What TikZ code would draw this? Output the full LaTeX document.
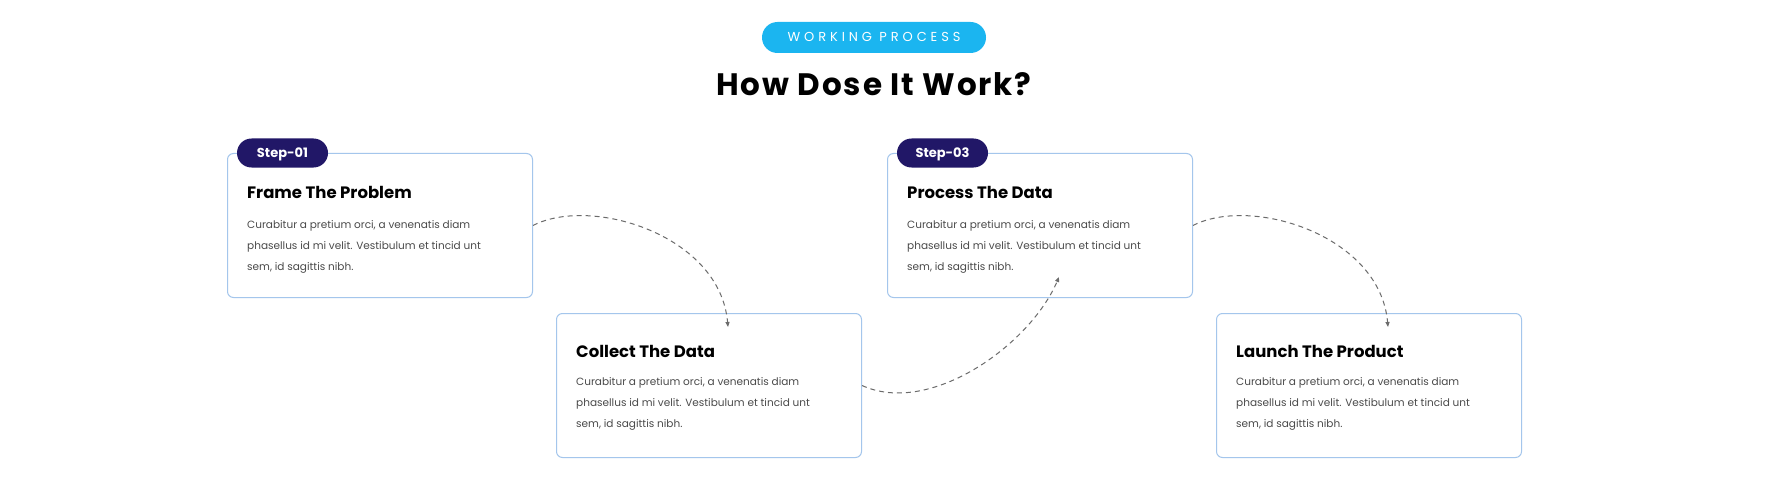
\documentclass[tikz,border=0pt]{standalone}
\usepackage{fontspec}
\setmainfont{Poppins}
\usetikzlibrary{arrows.meta,calc}
\definecolor{pillc}{HTML}{1BB5F0}
\definecolor{navy}{HTML}{211767}
\definecolor{cardline}{HTML}{A4C6EC}
\definecolor{bodyc}{HTML}{4A4A4A}
\definecolor{connc}{HTML}{6B6B6B}
\begin{document}
\begin{tikzpicture}[x=1pt,y=-1pt,
 card/.style={draw=cardline, line width=1pt, rounded corners=6pt, minimum width=305pt, minimum height=144pt, inner sep=0pt, anchor=north west},
 badge/.style={fill=navy, rounded corners=14.5pt, minimum width=91pt, minimum height=29pt, inner sep=0pt, text=white, text height=9pt, text depth=0pt, font=\fontsize{13}{13}\selectfont\bfseries},
 pill/.style={fill=pillc, rounded corners=15.5pt, minimum width=224pt, minimum height=31pt, inner sep=0pt, text=white, text height=9pt, text depth=0pt, font=\fontsize{13}{13}\selectfont\addfontfeatures{LetterSpace=30}},
 titlestyle/.style={anchor=base, inner sep=0pt, font=\fontsize{31}{31}\selectfont\bfseries\addfontfeatures{LetterSpace=6}},
 head/.style={anchor=base west, inner sep=0pt, font=\fontsize{16.5}{16.5}\selectfont\bfseries},
 body/.style={anchor=base west, inner sep=0pt, text=bodyc, font=\fontsize{10.5}{21}\selectfont},
 conn/.style={draw=connc, line width=1pt, dash pattern=on 5pt off 4pt, -{Triangle[length=5pt,width=4pt]}}
]
\fill[white] (0,0) rectangle (1772,500);
\useasboundingbox (0,0) rectangle (1772,500);

\node[pill] (pill) at (874,37.5) {WORKING PROCESS};
\node[titlestyle] (title) at (874,96) {How Dose It Work?};

\node[card] (b1) at (227,153) {};
\node[card] (b2) at (556,313) {};
\node[card] (b3) at (887,153) {};
\node[card] (b4) at (1216,313) {};

\node[badge] (s1) at ($(b1.north west)+(55.5,0)$) {Step-01};
\node[badge] (s3) at ($(b3.north west)+(55.5,0)$) {Step-03};

\node[head] (h1) at ($(b1.north west)+(20,45)$) {Frame The Problem};
\node[head] (h2) at ($(b2.north west)+(20,44)$) {Collect The Data};
\node[head] (h3) at ($(b3.north west)+(20,45)$) {Process The Data};
\node[head] (h4) at ($(b4.north west)+(20,44)$) {Launch The Product};

\node[body] (t1) at ($(b1.north west)+(20,75)$) {\parbox[t]{290pt}{Curabitur a pretium orci, a venenatis diam\\phasellus id mi velit. Vestibulum et tincid unt\\sem, id sagittis nibh.}};
\node[body] (t2) at ($(b2.north west)+(20,72)$) {\parbox[t]{290pt}{Curabitur a pretium orci, a venenatis diam\\phasellus id mi velit. Vestibulum et tincid unt\\sem, id sagittis nibh.}};
\node[body] (t3) at ($(b3.north west)+(20,75)$) {\parbox[t]{290pt}{Curabitur a pretium orci, a venenatis diam\\phasellus id mi velit. Vestibulum et tincid unt\\sem, id sagittis nibh.}};
\node[body] (t4) at ($(b4.north west)+(20,72)$) {\parbox[t]{290pt}{Curabitur a pretium orci, a venenatis diam\\phasellus id mi velit. Vestibulum et tincid unt\\sem, id sagittis nibh.}};

\coordinate (e2) at ($(b2.north west)+(172,14)$);
\coordinate (e3) at ($(b3.north west)+(172,124)$);
\coordinate (e4) at ($(b4.north west)+(172,14)$);

\draw[conn] (b1.east) .. controls +(58,-30) and +(-8,-92) .. (e2);
\draw[conn] (b2.east) .. controls +(68,31) and +(-29,68) .. (e3);
\draw[conn] (b3.east) .. controls +(58,-30) and +(-8,-92) .. (e4);
\end{tikzpicture}
\end{document}
